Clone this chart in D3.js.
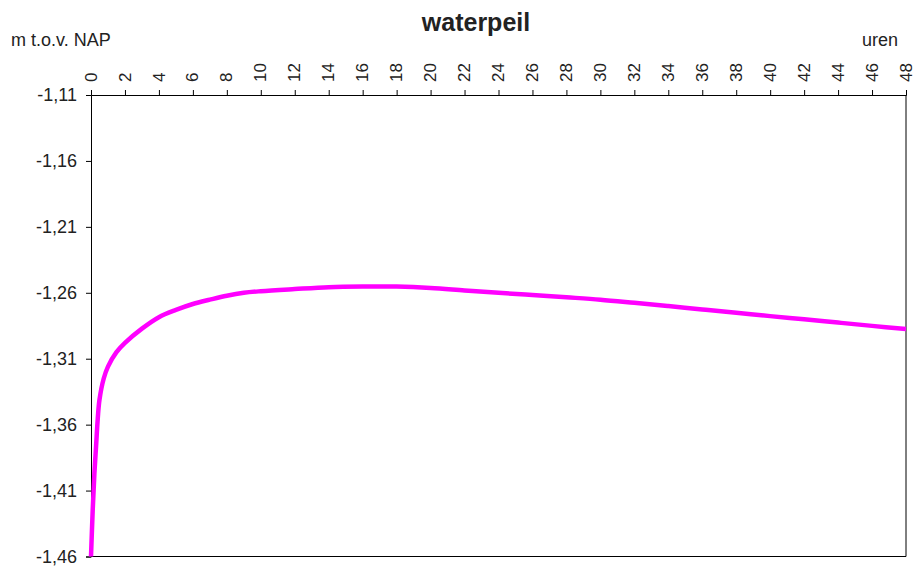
<!DOCTYPE html>
<html>
<head>
<meta charset="utf-8">
<script src="https://cdn.jsdelivr.net/npm/d3@7"></script>
<style>
  body { margin: 0; background: #fff; }
  svg text { font-family: "Liberation Sans", Arial, sans-serif; fill: #222; }
  .axis path, .axis line { stroke: #000; }
</style>
</head>
<body>
<div id="chart"></div>
<script>
/* waterpeil - water level (m t.o.v. NAP) over 48 hours */

const HOURS  = [0, 0.1, 0.2, 0.3, 0.4, 0.5, 0.75, 1, 1.5, 2, 3, 4, 5, 6, 7, 8, 9, 10,
                12, 14, 16, 18, 20, 22, 24, 26, 28, 30, 32, 34, 36, 38, 40, 42, 44, 46, 48];
const LEVELS = [-1.46, -1.425, -1.397, -1.376, -1.355, -1.341, -1.325, -1.316, -1.305, -1.298,
                -1.2872, -1.2785, -1.273, -1.2685, -1.2652, -1.2622, -1.2600, -1.2588,
                -1.2572, -1.2558, -1.2553, -1.2553, -1.2563, -1.2582, -1.2600, -1.2617,
                -1.2634, -1.2652, -1.2676, -1.2701, -1.2726, -1.2751, -1.2777, -1.2801,
                -1.2826, -1.2851, -1.2875];
const X_TICKS = d3.range(0, 49, 2);
const Y_TICKS = [-1.11, -1.16, -1.21, -1.26, -1.31, -1.36, -1.41, -1.46];

const W = 914, H = 572;
const plot = { left: 91, right: 906, top: 95, bottom: 556.5 };

const svg = d3.select("#chart").append("svg")
    .attr("width", W).attr("height", H);

const x = d3.scaleLinear().domain([0, 48]).range([plot.left, plot.right]);
const y = d3.scaleLinear().domain([-1.46, -1.11]).range([plot.bottom, plot.top]);

// right + bottom frame lines
svg.append("line").attr("x1", plot.right).attr("x2", plot.right)
    .attr("y1", plot.top).attr("y2", plot.bottom).attr("stroke", "#000");
svg.append("line").attr("x1", plot.left).attr("x2", plot.right)
    .attr("y1", plot.bottom).attr("y2", plot.bottom).attr("stroke", "#000");

// top x axis, labels rotated
const xAxis = svg.append("g").attr("class", "axis")
    .attr("transform", `translate(0,${plot.top})`)
    .call(d3.axisTop(x).tickValues(X_TICKS).tickSizeOuter(0).tickSize(5).tickFormat(d3.format("d")));
xAxis.selectAll("text")
    .attr("font-size", 17)
    .attr("text-anchor", "start")
    .attr("x", 0).attr("y", 0).attr("dy", "0.3em")
    .attr("transform", "translate(0,-13) rotate(-90)");

// left y axis
const fmt = d => d.toFixed(2).replace(".", ",");
svg.append("g").attr("class", "axis")
    .attr("transform", `translate(${plot.left},0)`)
    .call(d3.axisLeft(y).tickValues(Y_TICKS).tickSizeOuter(0).tickSize(5).tickPadding(9).tickFormat(fmt))
  .selectAll("text").attr("font-size", 18);

svg.selectAll(".axis text").attr("fill", "#222").attr("font-family", "Liberation Sans, Arial, sans-serif");

// the water level line
const pts = HOURS.map((h, i) => [h, LEVELS[i]]);
svg.append("path").datum(pts)
    .attr("fill", "none").attr("stroke", "#ff00ff").attr("stroke-width", 4.5)
    .attr("stroke-linejoin", "round")
    .attr("d", d3.line().x(d => x(d[0])).y(d => y(d[1])).curve(d3.curveCatmullRom.alpha(0.5)));

// titles
svg.append("text").attr("x", 476).attr("y", 31).attr("text-anchor", "middle")
    .attr("font-size", 25).attr("font-weight", "bold").text("waterpeil");
svg.append("text").attr("x", 11).attr("y", 46).attr("font-size", 18).text("m t.o.v. NAP");
svg.append("text").attr("x", 898).attr("y", 46).attr("text-anchor", "end")
    .attr("font-size", 18).text("uren");
</script>
</body>
</html>
